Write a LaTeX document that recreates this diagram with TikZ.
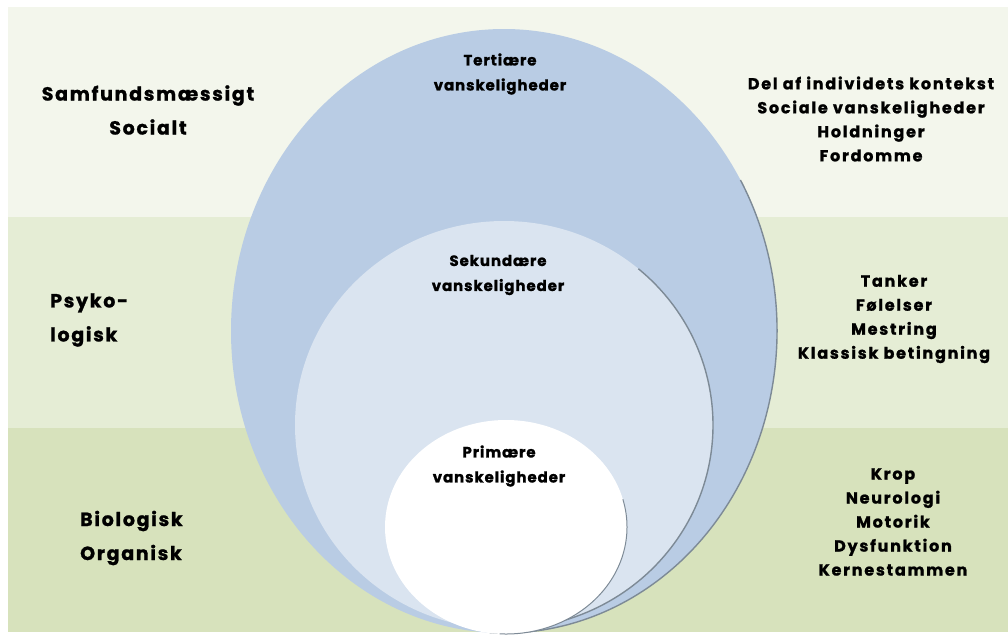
\documentclass[tikz,border=0pt]{standalone}
\usepackage{fontspec}
\setmainfont{Poppins}[BoldFont={* Bold}]
\newfontfamily\rfont{Poppins Bold}[LetterSpace=11, FakeBold=1.2]
\newfontfamily\efont{Poppins Bold}[LetterSpace=6, FakeBold=1.2]
\newfontfamily\lfont{Poppins Bold}[LetterSpace=9, FakeBold=1.2]
\begin{document}
\begin{tikzpicture}[x=1pt,y=-1pt,
  rlab/.style={font=\rfont\fontsize{16}{24}\selectfont, align=center, inner sep=0pt},
  elab/.style={font=\efont\fontsize{15}{25}\selectfont, align=center, inner sep=0pt},
  biglab/.style={font=\lfont\fontsize{19}{34}\selectfont, inner sep=0pt},
  edge/.style={draw=rimgray, line width=1.4pt}]
\definecolor{topband}{HTML}{F3F6EC}
\definecolor{midband}{HTML}{E5EDD5}
\definecolor{botband}{HTML}{D7E2BC}
\definecolor{outerblue}{HTML}{B9CCE4}
\definecolor{midblue}{HTML}{DAE4F0}
\definecolor{rimgray}{HTML}{7D8A96}
\useasboundingbox (0,0) rectangle (1008,638);
\fill[white] (0,0) rectangle (1008,638);
% bands
\fill[topband] (8,7) rectangle (1008,217);
\fill[midband] (8,217) rectangle (1008,428);
\fill[botband] (8,428) rectangle (1008,632);
% outer ellipse
\coordinate (oc) at (504,331);
\fill[outerblue] (oc) ellipse [x radius=273, y radius=302];
\draw[edge] (oc) ++(-30:273 and 302) arc[start angle=-30, end angle=93, x radius=273, y radius=302];
% middle ellipse
\coordinate (mc) at (504,425);
\fill[midblue] (mc) ellipse [x radius=209, y radius=204];
\draw[edge] (mc) ++(-50:209 and 204) arc[start angle=-50, end angle=93, x radius=209, y radius=204];
% inner ellipse
\coordinate (ic) at (506,527);
\fill[white] (ic) ellipse [x radius=121, y radius=107];
\draw[edge, line width=1pt] (ic) ++(-15:121 and 107) arc[start angle=-15, end angle=93, x radius=121, y radius=107];
% ellipse labels
\node[elab] (tert) at (500,74) {Tertiære\\vanskeligheder};
\node[elab] (sek) at (498,275) {Sekundære\\vanskeligheder};
\node[elab] (prim) at (499,466) {Primære\\vanskeligheder};
% left labels
\node[biglab, align=center] (samf) at (148,110) {Samfundsmæssigt\\Socialt};
\node[biglab, align=left, anchor=west] (psyk) at (50,320) {Psyko-\\logisk};
\node[biglab, align=left, anchor=west] (bio) at (80,538) {Biologisk\\Organisk};
% right labels
\node[rlab] (r1) at (871,119) {Del af individets kontekst\\Sociale vanskeligheder\\Holdninger\\Fordomme};
\node[rlab] (r2) at (894,319) {Tanker\\Følelser\\Mestring\\Klassisk betingning};
\node[rlab] (r3) at (893,522) {Krop\\Neurologi\\Motorik\\Dysfunktion\\Kernestammen};
\end{tikzpicture}
\end{document}
